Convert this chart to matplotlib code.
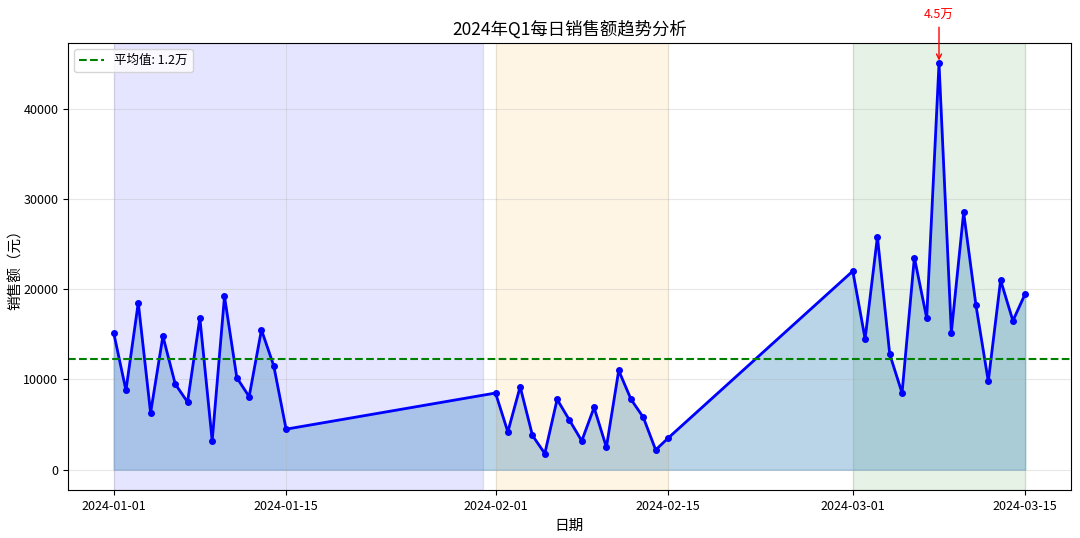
import numpy as np
import pandas as pd
import matplotlib
matplotlib.use('Agg')
import matplotlib.pyplot as plt

plt.rcParams['font.family'] = ['Noto Sans CJK SC', 'DejaVu Sans']
plt.rcParams['axes.unicode_minus'] = False

# data
jan_sales = [15200, 8800, 18500, 6300, 14800, 9500, 7500, 16800, 3200, 19200,
             10200, 8100, 15500, 11500, 4500]
feb_sales = [8500, 4200, 9200, 3800, 1800, 7800, 5500, 3200, 6900, 2500,
             11000, 7800, 5800, 2200, 3500]
mar_sales = [22000, 14500, 25800, 12800, 8500, 23500, 16800, 45000, 15200, 28500,
             18200, 9800, 21000, 16500, 19500]

dates = list(pd.date_range('2024-01-01', '2024-01-15')) + \
        list(pd.date_range('2024-02-01', '2024-02-15')) + \
        list(pd.date_range('2024-03-01', '2024-03-15'))
sales = np.array(jan_sales + feb_sales + mar_sales)

spans = [('2024-01-01', '2024-01-31', 'blue'),
         ('2024-02-01', '2024-02-15', 'orange'),
         ('2024-03-01', '2024-03-15', 'green')]
xticks = ['2024-01-01', '2024-01-15', '2024-02-01', '2024-02-15', '2024-03-01', '2024-03-15']

fig, ax = plt.subplots(figsize=(10.8, 5.38), dpi=100)
fig.subplots_adjust(left=0.063, right=0.9915, top=0.92, bottom=0.089)

for start, end, c in spans:
    ax.axvspan(pd.Timestamp(start), pd.Timestamp(end), color=c, alpha=0.1)

ax.fill_between(dates, sales, color='#1f77b4', alpha=0.3)
ax.plot(dates, sales, color='blue', lw=2, marker='o', markersize=4)

mean = sales.mean()
ax.axhline(mean, color='green', ls='--', lw=1.5, label=f'平均值: {mean/10000:.1f}万')

imax = int(np.argmax(sales))
ax.annotate(f'{sales[imax]/10000:.1f}万', xy=(dates[imax], sales[imax]),
            xytext=(0, 30), textcoords='offset points', ha='center', va='bottom',
            color='red', fontsize=9,
            arrowprops=dict(arrowstyle='->', color='red', lw=1))

ax.set_xticks([pd.Timestamp(t) for t in xticks])
ax.set_xticklabels(xticks)
ax.tick_params(labelsize=9)
ax.set_title('2024年Q1每日销售额趋势分析', fontsize=12.5)
ax.set_xlabel('日期', fontsize=10.5)
ax.set_ylabel('销售额（元）', fontsize=10.5)
ax.yaxis.set_label_coords(-0.045, 0.5)
ax.grid(True, alpha=0.3)
ax.legend(loc='upper left', fontsize=9)

fig.savefig('out.png', dpi=100)
